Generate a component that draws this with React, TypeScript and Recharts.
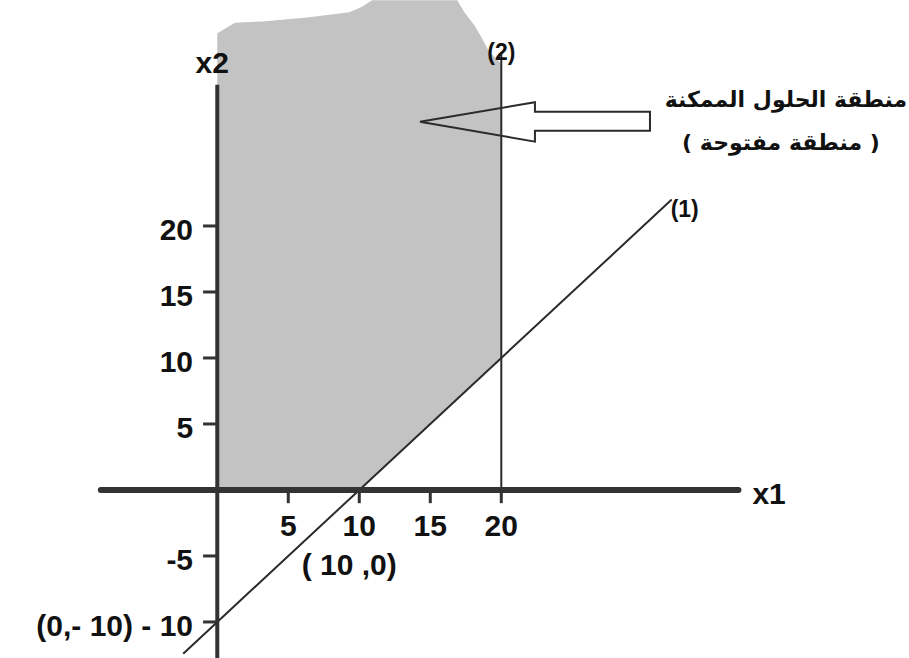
import { ComposedChart, XAxis, YAxis, Area, Line, ReferenceLine, ReferenceDot, Label } from "recharts";

const W = 909;
const H = 658;

// axis windows (x1 across, x2 up)
const X_DOMAIN: [number, number] = [-15.3, 48.71];
const Y_DOMAIN: [number, number] = [-12.73, 37.12];

// shaded feasible region: torn upper edge between x1 = 0 and x1 = 20
const regionX = [0, 1.25, 3.2, 6.3, 7.9, 9.3, 10.2, 10.9, 16.9, 17.4, 18.1, 18.6, 19.1, 19.6, 20];
const regionTop = [34.6, 35.4, 35.5, 35.8, 36.0, 36.2, 36.6, 37.1, 37.1, 36.2, 35.2, 34.3, 33.3, 32.7, 32.3];

// part cut away below constraint (1)
const cutX = [10, 20];
const cutTop = [0, 10];

// constraint (1): x1 - x2 = 10
const line1X = [-2.4, 0, 10, 20, 32];
const line1Y = [-12.4, -10, 0, 10, 22];

// constraint (2): x1 = 20
const line2X = 20;
const line2Top = 33;

// axes
const xAxisFrom = -8.2;
const xAxisTo = 36.7;
const yAxisTop = 30.7;

const yTicks = [20, 15, 10, 5, -5, -10];
const yTickLabels = ["20", "15", "10", "5", "-5", "(0,- 10) - 10"];
const xTicks = [5, 10, 15, 20];
const xTickLabels = ["5", "10", "15", "20"];

// hollow arrow pointing at the region
const arrowX = [14.27, 22.37, 22.37, 30.47, 30.47, 22.37, 22.37, 14.27];
const arrowY = [27.9, 29.37, 28.66, 28.66, 27.22, 27.22, 26.39, 27.9];

const noteLines = ["منطقة الحلول الممكنة", "( منطقة مفتوحة )"];

const regionData = regionX.map((x, i) => ({ x, band: [0, regionTop[i]] }));
const cutData = cutX.map((x, i) => ({ x, band: [0, cutTop[i]] }));
const line1Data = line1X.map((x, i) => ({ x, y: line1Y[i] }));
const arrowData = arrowX.map((x, i) => ({ x, y: arrowY[i] }));

const font = {
  fontFamily: "'Liberation Sans', Arial, sans-serif",
  fontWeight: 700,
  fontSize: 30,
  fill: "#111",
  direction: "ltr",
  unicodeBidi: "bidi-override",
} as any;
const small = { ...font, fontSize: 23 };
const arabic = {
  fontFamily: "'DejaVu Sans', sans-serif",
  fontWeight: 700,
  fontSize: 22,
  fill: "#111",
};

const TICK = 1; // tick length in axis units
const INK = "#2b2b2b";

export default function App() {
  const last = line1X.length - 1;
  return (
    <div style={{ position: "fixed", left: 0, top: 0, width: W, height: H, background: "#fff" }}>
      <ComposedChart width={W} height={H} margin={{ top: 0, right: 0, bottom: 0, left: 0 }}>
        <XAxis type="number" dataKey="x" domain={X_DOMAIN} allowDataOverflow hide />
        <YAxis type="number" domain={Y_DOMAIN} allowDataOverflow hide />

        <Area
          data={regionData}
          dataKey="band"
          type="linear"
          stroke="none"
          fill="#c3c3c3"
          fillOpacity={1}
          dot={false}
          activeDot={false}
          isAnimationActive={false}
        />
        <Area
          data={cutData}
          dataKey="band"
          type="linear"
          stroke="none"
          fill="#ffffff"
          fillOpacity={1}
          dot={false}
          activeDot={false}
          isAnimationActive={false}
        />

        <Line data={line1Data} dataKey="y" type="linear" stroke={INK} strokeWidth={2} dot={false} activeDot={false} isAnimationActive={false} />
        <Line data={arrowData} dataKey="y" type="linear" stroke={INK} strokeWidth={2} dot={false} activeDot={false} isAnimationActive={false} />

        <ReferenceLine segment={[{ x: line2X, y: 0 }, { x: line2X, y: line2Top }]} stroke={INK} strokeWidth={2} ifOverflow="visible">
          <Label value="(2)" position="top" offset={-6} {...small} />
        </ReferenceLine>

        {/* x1 axis */}
        <ReferenceLine segment={[{ x: xAxisFrom, y: 0 }, { x: xAxisTo, y: 0 }]} stroke="#333" strokeWidth={6} strokeLinecap="round" ifOverflow="visible">
          <Label value="x1" position="right" offset={14} dy={3} {...font} />
        </ReferenceLine>
        {/* x2 axis */}
        <ReferenceLine segment={[{ x: 0, y: yAxisTop }, { x: 0, y: Y_DOMAIN[0] }]} stroke="#333" strokeWidth={4} ifOverflow="visible">
          <Label value="x2" position="top" offset={12} dx={-5} {...font} />
        </ReferenceLine>

        {yTicks.map((v, i) => (
          <ReferenceLine key={`y${v}`} segment={[{ x: -TICK, y: v }, { x: 0, y: v }]} stroke="#333" strokeWidth={3} ifOverflow="visible">
            <Label value={yTickLabels[i]} position="left" offset={10} dy={3} {...font} />
          </ReferenceLine>
        ))}
        {xTicks.map((v, i) => (
          <ReferenceLine key={`x${v}`} segment={[{ x: v, y: 0 }, { x: v, y: -TICK }]} stroke="#333" strokeWidth={3} ifOverflow="visible">
            <Label value={xTickLabels[i]} position="bottom" offset={12} {...font} />
          </ReferenceLine>
        ))}

        <ReferenceDot x={line1X[last]} y={line1Y[last]} r={0} fill="none" stroke="none" ifOverflow="visible">
          <Label value="(1)" position="center" dx={13} dy={9} {...small} />
        </ReferenceDot>
        <ReferenceDot x={10} y={0} r={0} fill="none" stroke="none" ifOverflow="visible">
          <Label value="( 10 ,0)" position="center" dx={-10} dy={74} {...font} />
        </ReferenceDot>
        <ReferenceDot x={arrowX[3]} y={(arrowY[3] + arrowY[4]) / 2} r={0} fill="none" stroke="none" ifOverflow="visible">
          <Label value={noteLines[0]} position="center" dx={136} dy={-22} {...arabic} />
          <Label value={noteLines[1]} position="center" dx={131} dy={21} {...arabic} />
        </ReferenceDot>
      </ComposedChart>
    </div>
  );
}
